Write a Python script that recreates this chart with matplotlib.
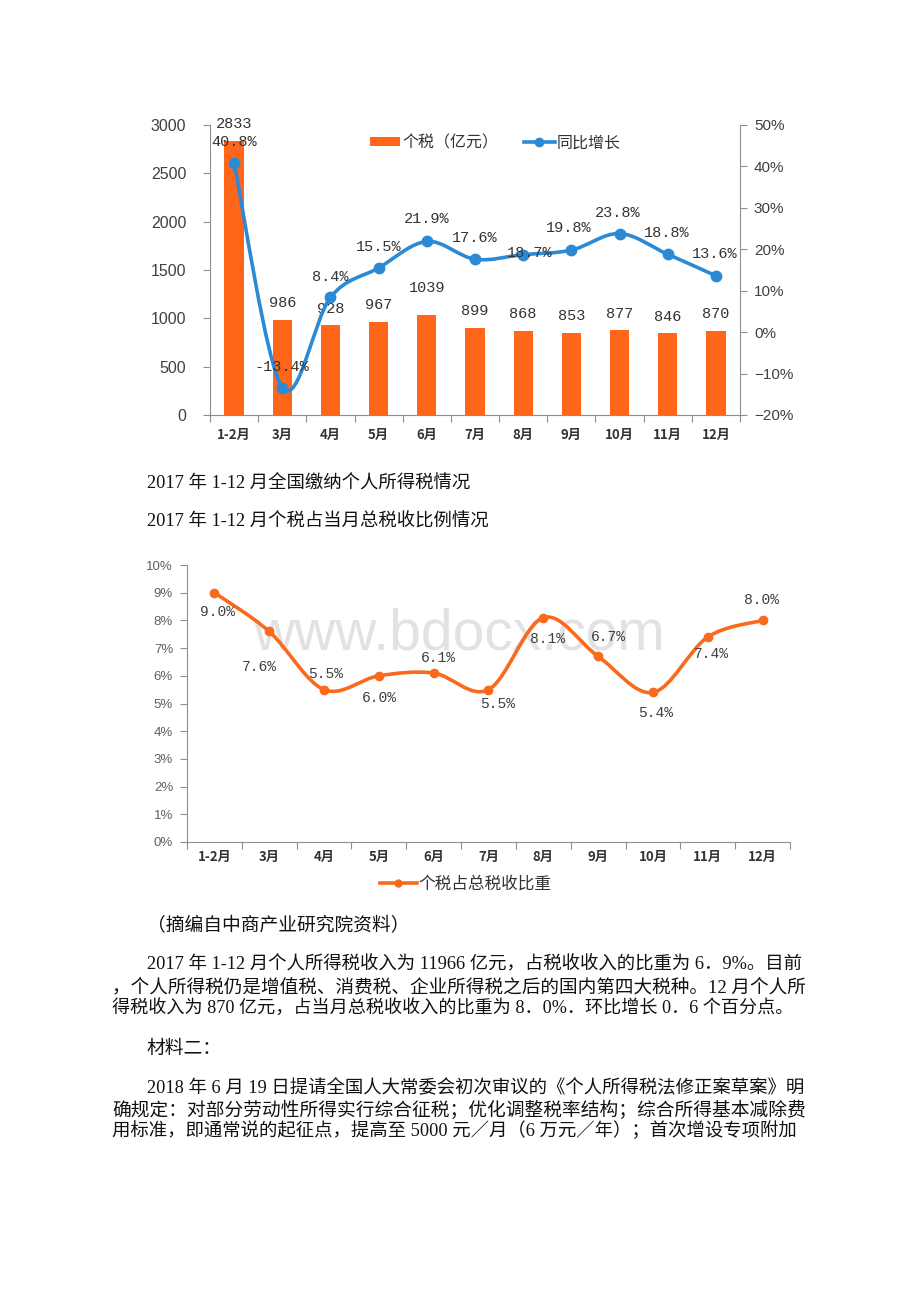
import numpy as np
import matplotlib
matplotlib.use('Agg')
import matplotlib.pyplot as plt
from matplotlib.path import Path
from matplotlib.patches import PathPatch, Patch
from matplotlib.lines import Line2D

# data
months = ['1-2月', '3月', '4月', '5月', '6月', '7月', '8月', '9月', '10月', '11月', '12月']
tax = [2833, 986, 928, 967, 1039, 899, 868, 853, 877, 846, 870]          # 亿元
growth = [40.8, -13.4, 8.4, 15.5, 21.9, 17.6, 18.7, 19.8, 23.8, 18.8, 13.6]  # %
share = [9.0, 7.6, 5.5, 6.0, 6.1, 5.5, 8.1, 6.7, 5.4, 7.4, 8.0]           # %

caption1 = '2017 年 1-12 月全国缴纳个人所得税情况'
caption2 = '2017 年 1-12 月个税占当月总税收比例情况'
source = '（摘编自中商产业研究院资料）'
para1 = ['2017 年 1-12 月个人所得税收入为 11966 亿元，占税收收入的比重为 6．9%。目前',
         '，个人所得税仍是增值税、消费税、企业所得税之后的国内第四大税种。12 月个人所',
         '得税收入为 870 亿元，占当月总税收收入的比重为 8．0%．环比增长 0．6 个百分点。']
title2 = '材料二：'
para2 = ['2018 年 6 月 19 日提请全国人大常委会初次审议的《个人所得税法修正案草案》明',
         '确规定：对部分劳动性所得实行综合征税；优化调整税率结构；综合所得基本减除费',
         '用标准，即通常说的起征点，提高至 5000 元／月（6 万元／年）；首次增设专项附加']

ORANGE = '#FF661A'
BLUE = '#2B8AD5'
LINE_OR = '#FA6A1C'
GRAY = '#8F8F8F'
CJK = ['Noto Sans CJK SC', 'DejaVu Sans']
BODY = ['Liberation Serif', 'Noto Sans CJK SC']
MONO = 'Liberation Mono'
SANS = 'Liberation Sans'

W, H = 920, 1302
fig = plt.figure(figsize=(W / 100, H / 100), dpi=100)


def px_rect(l, t, r, b):
    return [l / W, 1 - b / H, (r - l) / W, (b - t) / H]


def smooth_path(xs, ys):
    # excel-like smoothed line: cubic bezier through the points
    pts = np.column_stack([xs, ys]).astype(float)
    n = len(pts)
    verts = [pts[0]]
    codes = [Path.MOVETO]
    for i in range(n - 1):
        p0 = pts[max(i - 1, 0)]
        p1 = pts[i]
        p2 = pts[i + 1]
        p3 = pts[min(i + 2, n - 1)]
        verts += [p1 + (p2 - p0) / 6, p2 - (p3 - p1) / 6, p2]
        codes += [Path.CURVE4] * 3
    return Path(verts, codes)


x = np.arange(len(months))

# ---------------- chart 1: bars + growth line ----------------
ax = fig.add_axes(px_rect(210, 125, 740, 415))
ax.bar(x, tax, width=0.4, color=ORANGE, zorder=2)
ax.set_xlim(-0.5, len(months) - 0.5)
ax.set_ylim(0, 3000)
ax.set_yticks(range(0, 3001, 500))
ax.set_yticklabels([str(v) for v in range(0, 3001, 500)], family=SANS, fontsize=11.5, color='#404040')
ax.set_xticks(np.arange(-0.5, len(months), 1))
ax.set_xticklabels([])
ax.set_xticks(x, minor=True)
ax.set_xticklabels(months, minor=True, family=CJK, fontsize=9.5, weight='bold', color='#333333')
ax.tick_params(axis='x', which='major', length=5, color=GRAY)
ax.tick_params(axis='x', which='minor', length=0, pad=9)
ax.tick_params(axis='y', length=5, color=GRAY, pad=12)
for s in ['top', 'right']:
    ax.spines[s].set_visible(False)
for s in ['left', 'bottom']:
    ax.spines[s].set_color(GRAY)

bar_dy = [12, 12, 12, 12, 19, 12, 12, 12, 12, 12, 12]
for i, v in enumerate(tax):
    ax.annotate(str(v), (i, v), xytext=(0, bar_dy[i]), textcoords='offset points',
                ha='center', va='center', family=MONO, fontsize=11, color='#333333',
                annotation_clip=False, zorder=5)

ax2 = ax.twinx()
ax2.set_ylim(-20, 50)
ax2.set_yticks(range(-20, 51, 10))
ax2.set_yticklabels([f'{v}%'.replace('-', '\u2212') for v in range(-20, 51, 10)],
                    family=SANS, fontsize=11, color='#404040')
ax2.tick_params(axis='y', length=5, color=GRAY, pad=5)
for s in ['top', 'left', 'bottom']:
    ax2.spines[s].set_visible(False)
ax2.spines['right'].set_color(GRAY)
ax2.add_patch(PathPatch(smooth_path(x, growth), fill=False, edgecolor=BLUE, lw=2.6,
                        capstyle='round', joinstyle='round', zorder=3))
ax2.plot(x, growth, 'o', ms=7.5, color=BLUE, zorder=4)

g_dx = [0, 0, 0, 0, 0, 0, 5, -2, -1, -1, -1]
g_dy = [15, 15, 14.5, 15, 16, 15, 1.5, 16, 14.5, 15, 16]
for i, v in enumerate(growth):
    ax2.annotate(f'{v:.1f}%', (i, v), xytext=(g_dx[i], g_dy[i]), textcoords='offset points',
                 ha='center', va='center', family=MONO, fontsize=11, color='#333333',
                 annotation_clip=False, zorder=6)

h1 = Patch(facecolor=ORANGE, edgecolor='none')
h2 = Line2D([], [], color=BLUE, lw=2.6, marker='o', ms=6)
fig.legend([h1, h2], ['个税（亿元）', '同比增长'], loc='center left',
           bbox_to_anchor=(370 / W, 1 - 143 / H), ncol=2, frameon=False,
           prop={'family': CJK, 'size': 11.5}, handlelength=1.9, handleheight=0.5,
           handletextpad=0.15, columnspacing=1.6, borderpad=0, borderaxespad=0,
           labelcolor='#333333')

# ---------------- chart 2: share line ----------------
bx = fig.add_axes(px_rect(187, 565, 790, 842))
bx.set_xlim(-0.5, len(months) - 0.5)
bx.set_ylim(0, 10)
bx.set_yticks(range(0, 11))
bx.set_yticklabels([f'{v}%' for v in range(0, 11)], family=SANS, fontsize=9.5, color='#606060')
bx.set_xticks(np.arange(-0.5, len(months), 1))
bx.set_xticklabels([])
bx.set_xticks(x, minor=True)
bx.set_xticklabels(months, minor=True, family=CJK, fontsize=9.5, weight='bold', color='#333333')
bx.tick_params(axis='x', which='major', length=5, color=GRAY)
bx.tick_params(axis='x', which='minor', length=0, pad=6)
bx.tick_params(axis='y', length=5, color=GRAY, pad=5)
for s in ['top', 'right']:
    bx.spines[s].set_visible(False)
for s in ['left', 'bottom']:
    bx.spines[s].set_color(GRAY)

# page watermark sitting behind the line
bx.text(459 / W, 1 - 650 / H, 'www.bdocx.com', transform=fig.transFigure, ha='center',
        va='baseline', family=SANS, fontsize=41, color='#e2e2e2', zorder=0.5)

bx.add_patch(PathPatch(smooth_path(x, share), fill=False, edgecolor=LINE_OR, lw=2.6,
                       capstyle='round', joinstyle='round', zorder=3))
bx.plot(x, share, 'o', ms=6, color=LINE_OR, zorder=4)

s_dx = [3, -10, 2, 1, 5, 9, 4, 10, 3, 4, -1]
s_dy = [-19, -36, 16, -22, 15, -14, -21, 19, -21, -17, 20]
for i, v in enumerate(share):
    bx.annotate(f'{v:.1f}%', (i, v), xytext=(s_dx[i] * 0.72, s_dy[i] * 0.72),
                textcoords='offset points', ha='center', va='center', family=MONO,
                fontsize=10.5, color='#404040', annotation_clip=False, zorder=6)

h3 = Line2D([], [], color=LINE_OR, lw=2.6, marker='o', ms=5)
fig.legend([h3], ['个税占总税收比重'], loc='center left',
           bbox_to_anchor=(380 / W, 1 - 884 / H), frameon=False,
           prop={'family': CJK, 'size': 12}, handlelength=2.2, handletextpad=0.1,
           borderpad=0, borderaxespad=0, labelcolor='#333333')

# ---------------- document text ----------------
renderer = fig.canvas.get_renderer()


def put_line(xp, yp, s, right=None, size=13.5):
    t = fig.text(xp / W, 1 - yp / H, s, family=BODY, fontsize=size, color='#111111',
                 ha='left', va='center')
    if right is not None:
        w = t.get_window_extent(renderer).width
        t.set_fontsize(size * (right - xp) / w)
    return t


put_line(147, 484, caption1, right=470)
put_line(147, 522, caption2, right=488)
put_line(147, 926, source)
put_line(147, 965, para1[0], right=803)
put_line(112, 987, para1[1], right=805)
put_line(112, 1008, para1[2], right=792)
put_line(147, 1049, title2)
put_line(147, 1088, para2[0], right=805)
put_line(112, 1110, para2[1], right=805)
put_line(112, 1131, para2[2], right=797)

fig.savefig('out.png', dpi=100)
